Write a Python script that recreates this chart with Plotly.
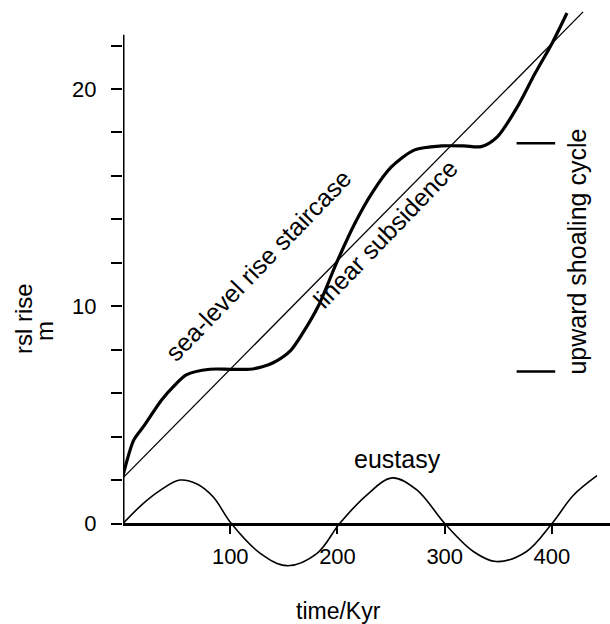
import plotly.graph_objects as go

# Sea-level rise staircase (thick curve): time in kyr, rsl rise in m
stair_t = [0, 10, 19, 36, 47, 59, 81, 100, 118, 130, 140, 156, 168, 182, 200,
           216, 232, 250, 272, 297, 318, 334, 349, 368, 384, 400, 414]
stair_m = [2.2, 3.84, 4.46, 5.69, 6.3, 6.84, 7.1, 7.1, 7.1, 7.22, 7.4, 7.95, 8.8,
           10.0, 12.1, 13.8, 15.2, 16.4, 17.2, 17.38, 17.38, 17.35, 17.8, 19.2,
           20.7, 22.1, 23.5]

# Linear subsidence: start and end points
subs_t = [0, 429]
subs_m = [2.1, 23.55]

# Eustatic oscillation
eust_t = [0, 19, 35, 53, 69, 84, 101, 128, 153, 181, 202, 227, 251, 274, 300,
          327, 348, 376, 400, 420, 442]
eust_m = [0, 0.93, 1.54, 2.0, 1.82, 1.23, 0, -1.37, -1.94, -1.37, 0, 1.3, 2.1,
          1.55, 0, -1.3, -1.75, -1.3, 0, 1.3, 2.2]

# Bracket marking one upward-shoaling cycle
cycle_t = [367, 403]
cycle_m = [7.0, 17.5]

x_ticks = [100, 200, 300, 400]
y_ticks = list(range(0, 23, 2))
y_ticktext = [str(v) if v % 10 == 0 else "" for v in y_ticks]

x_range = [0, 454.1]
y_range = [-3.52, 23.73]
y_axis_top = 22.5

FONT = "Liberation Sans, Arial, Helvetica, sans-serif"

fig = go.Figure()

fig.add_trace(go.Scatter(x=stair_t, y=stair_m, mode="lines",
                         line=dict(color="black", width=3.2, shape="spline", smoothing=0.8),
                         hoverinfo="skip"))
fig.add_trace(go.Scatter(x=subs_t, y=subs_m, mode="lines",
                         line=dict(color="black", width=1.3), hoverinfo="skip"))
fig.add_trace(go.Scatter(x=eust_t, y=eust_m, mode="lines",
                         line=dict(color="black", width=1.6, shape="spline", smoothing=1.0),
                         hoverinfo="skip"))

# cycle bracket dashes
bx, by = [], []
for m in cycle_m:
    bx += [cycle_t[0], cycle_t[1], None]
    by += [m, m, None]
fig.add_trace(go.Scatter(x=bx, y=by, mode="lines",
                         line=dict(color="black", width=2.5), hoverinfo="skip"))

# vertical axis line from zero upward
fig.add_shape(type="line", xref="x", yref="y", x0=0, x1=0, y0=0, y1=y_axis_top,
              line=dict(color="black", width=3))

x_axis_pos = (0 - y_range[0]) / (y_range[1] - y_range[0])

fig.update_layout(
    width=610, height=624,
    margin=dict(l=123, r=0, t=8, b=24),
    paper_bgcolor="white", plot_bgcolor="white",
    showlegend=False,
    font=dict(family=FONT, color="black", size=22),
    xaxis=dict(range=x_range, tickvals=x_ticks, ticks="outside", ticklen=8,
               tickwidth=1.5, tickcolor="black", showgrid=False, zeroline=False,
               showline=True, linewidth=3, linecolor="black",
               anchor="free", position=x_axis_pos,
               tickfont=dict(size=22, family=FONT), ticklabelstandoff=4),
    yaxis=dict(range=y_range, tickvals=y_ticks, ticktext=y_ticktext,
               ticks="outside", ticklen=11, tickwidth=1.5, tickcolor="black",
               showgrid=False, zeroline=False, showline=False,
               tickfont=dict(size=22, family=FONT), ticklabelstandoff=10),
)

ann = dict(showarrow=False, font=dict(family=FONT, size=25, color="black"),
           xref="x", yref="y", xanchor="center", yanchor="middle")
fig.add_annotation(text="sea-level rise staircase", x=126.2, y=11.9, textangle=-46, **ann)
fig.add_annotation(text="linear subsidence", x=244.3, y=13.33, textangle=-46, **ann)
fig.add_annotation(text="eustasy", x=255.5, y=2.95, **ann)
fig.add_annotation(text="upward shoaling cycle", x=423, y=12.5, textangle=-90, **ann)

# axis titles, placed in paper coordinates outside the plotting area
title = dict(showarrow=False, xref="paper", yref="paper",
             xanchor="center", yanchor="middle")
fig.add_annotation(text="rsl rise", x=-0.2033, y=0.4764, textangle=-90,
                   font=dict(family=FONT, size=24, color="black"), **title)
fig.add_annotation(text="m", x=-0.160, y=0.4544, textangle=-90,
                   font=dict(family=FONT, size=24, color="black"), **title)
fig.add_annotation(text="time/Kyr", x=0.4435, y=-0.0186,
                   font=dict(family=FONT, size=23, color="black"), **title)

fig.write_html("out.html")
